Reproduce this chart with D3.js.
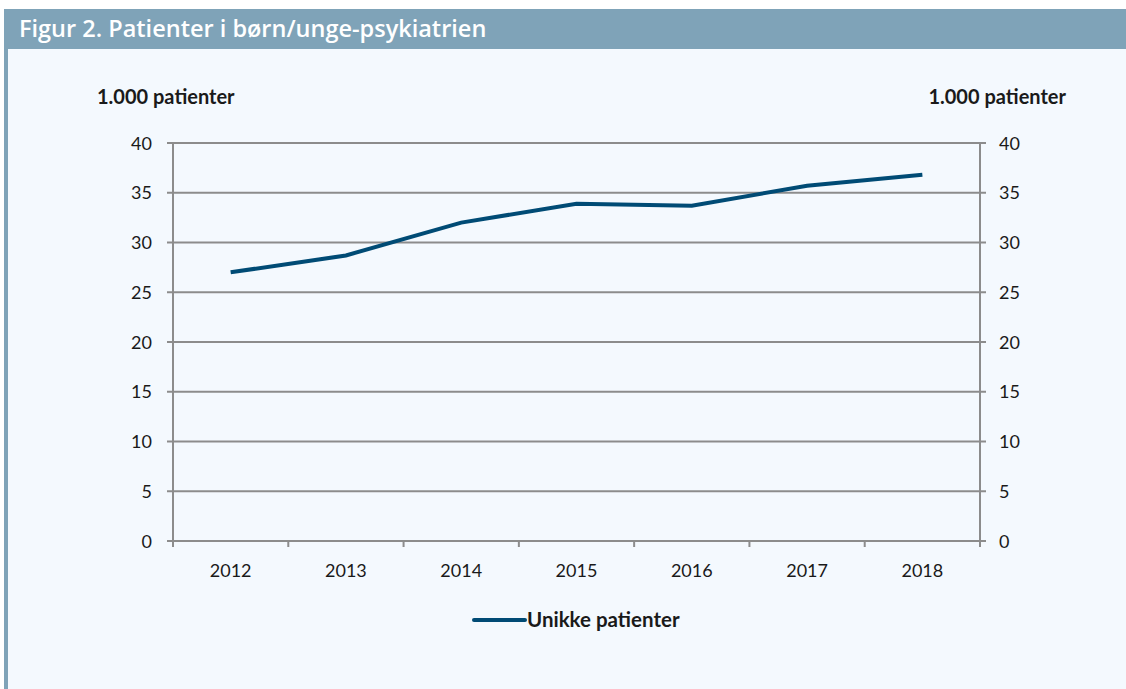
<!DOCTYPE html>
<html>
<head>
<meta charset="utf-8">
<script src="https://cdn.jsdelivr.net/npm/d3@7/dist/d3.min.js"></script>
<style>
  body { margin: 0; background: #ffffff; }
  svg { display: block; font-family: Lato, "Open Sans", sans-serif; }
</style>
</head>
<body>
<svg width="1126" height="689"></svg>
<script>
window.onload = function(e){

var years = ["2012", "2013", "2014", "2015", "2016", "2017", "2018"];
var patients = [27.0, 28.7, 32.0, 33.9, 33.7, 35.7, 36.8];
var yTicks = [0, 5, 10, 15, 20, 25, 30, 35, 40];

var svg = d3.select("svg"),
    width = +svg.attr("width"),
    height = +svg.attr("height");

// panel background + frame
svg.append("rect").attr("x", 4).attr("y", 9).attr("width", width - 4).attr("height", height - 9).attr("fill", "#f4f9fe");
svg.append("rect").attr("x", 4).attr("y", 9).attr("width", width - 4).attr("height", 40).attr("fill", "#7fa3b8");
svg.append("rect").attr("x", 4).attr("y", 9).attr("width", 4).attr("height", height - 9).attr("fill", "#7fa3b8");

svg.append("text")
    .attr("x", 19).attr("y", 37)
    .attr("fill", "#ffffff")
    .attr("font-family", "'Open Sans', sans-serif")
    .attr("font-size", 23.5).attr("font-weight", 600)
    .text("Figur 2. Patienter i børn/unge-psykiatrien");

var left = 173, right = 980, top = 143, bottom = 541;

var x = d3.scaleBand().domain(years).range([left, right]);
var y = d3.scaleLinear().domain([0, 40]).range([bottom, top]);

var grid = "#8c8c8c";

// gridlines
svg.append("g").selectAll("line")
    .data(yTicks)
  .enter().append("line")
    .attr("x1", left - 6).attr("x2", right + 6)
    .attr("y1", function(d) { return y(d); })
    .attr("y2", function(d) { return y(d); })
    .attr("stroke", grid).attr("stroke-width", 2);

// vertical axes
[left, right].forEach(function(px) {
  svg.append("line").attr("x1", px).attr("x2", px).attr("y1", top).attr("y2", bottom + 6)
      .attr("stroke", grid).attr("stroke-width", 2);
});

// x ticks at band boundaries
var bounds = years.map(function(d) { return x(d); }).concat([right]);
svg.append("g").selectAll("line")
    .data(bounds)
  .enter().append("line")
    .attr("x1", function(d) { return d; }).attr("x2", function(d) { return d; })
    .attr("y1", bottom).attr("y2", bottom + 6)
    .attr("stroke", grid).attr("stroke-width", 2);

// tick labels
svg.append("g").selectAll("text")
    .data(yTicks)
  .enter().append("text")
    .attr("x", 152).attr("y", function(d) { return y(d) + 6.5; })
    .attr("text-anchor", "end").attr("font-size", 18).attr("fill", "#1a1a1a")
    .text(function(d) { return d; });

svg.append("g").selectAll("text")
    .data(yTicks)
  .enter().append("text")
    .attr("x", 999).attr("y", function(d) { return y(d) + 6.5; })
    .attr("text-anchor", "start").attr("font-size", 18).attr("fill", "#1a1a1a")
    .text(function(d) { return d; });

svg.append("g").selectAll("text")
    .data(years)
  .enter().append("text")
    .attr("x", function(d) { return x(d) + x.bandwidth() / 2; })
    .attr("y", bottom + 36)
    .attr("text-anchor", "middle").attr("font-size", 18).attr("fill", "#1a1a1a")
    .text(function(d) { return d; });

// axis titles
svg.append("text").attr("x", 97).attr("y", 104)
    .attr("font-size", 20).attr("font-weight", "bold").attr("fill", "#1a1a1a")
    .text("1.000 patienter");
svg.append("text").attr("x", 1066).attr("y", 104).attr("text-anchor", "end")
    .attr("font-size", 20).attr("font-weight", "bold").attr("fill", "#1a1a1a")
    .text("1.000 patienter");

// the line
var line = d3.line()
    .x(function(d, i) { return x(years[i]) + x.bandwidth() / 2; })
    .y(function(d) { return y(d); });

svg.append("path")
    .datum(patients)
    .attr("d", line)
    .attr("fill", "none")
    .attr("stroke", "#004b75")
    .attr("stroke-width", 4);

// legend
svg.append("line").attr("x1", 474).attr("x2", 525).attr("y1", 620).attr("y2", 620)
    .attr("stroke", "#004b75").attr("stroke-width", 4).attr("stroke-linecap", "round");
svg.append("text").attr("x", 527).attr("y", 627)
    .attr("font-size", 20.5).attr("font-weight", "bold").attr("fill", "#1a1a1a")
    .text("Unikke patienter");

};
</script>
</body>
</html>
